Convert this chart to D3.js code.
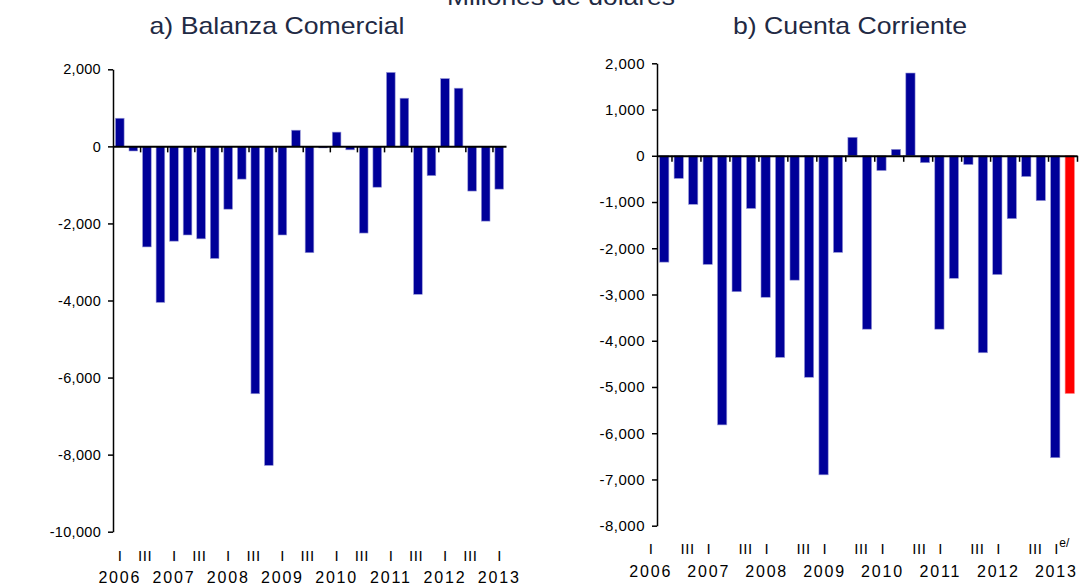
<!DOCTYPE html>
<html><head><meta charset="utf-8">
<script src="https://cdn.jsdelivr.net/npm/d3@7"></script>
<style>body{margin:0;background:#fff}svg{display:block}text{font-family:"Liberation Sans",Arial,sans-serif}</style>
</head><body><svg id="c" width="1079" height="585"></svg>
<script>
// ---- data ----
const categories = [
  "2006 I","2006 II","2006 III","2006 IV","2007 I","2007 II","2007 III","2007 IV",
  "2008 I","2008 II","2008 III","2008 IV","2009 I","2009 II","2009 III","2009 IV",
  "2010 I","2010 II","2010 III","2010 IV","2011 I","2011 II","2011 III","2011 IV",
  "2012 I","2012 II","2012 III","2012 IV","2013 I"];
const balanzaComercial = [730,-120,-2610,-4050,-2460,-2300,-2400,-2910,-1630,-850,-6420,-8280,-2300,420,-2760,-40,370,-90,-2250,-1060,1920,1250,-3840,-760,1760,1510,-1160,-1940,-1110];
const cuentaCorriente = [-2300,-490,-1050,-2350,-5820,-2940,-1140,-3060,-4360,-2690,-4790,-6900,-2090,400,-3750,-320,140,1790,-150,-3750,-2650,-190,-4260,-2570,-1360,-450,-970,-6530,-5140];
const estimatedB = ["2013 I"];
const yearLabels = ["2006","2007","2008","2009","2010","2011","2012","2013"];
const quarterTickLabels = ["I","III"];
const ticksA = [2000,0,-2000,-4000,-6000,-8000,-10000];
const ticksB = [2000,1000,0,-1000,-2000,-3000,-4000,-5000,-6000,-7000,-8000];
const mainTitle = "Millones de dólares";
const titleA = "a) Balanza Comercial";
const titleB = "b) Cuenta Corriente";
const estimateMark = "e/";

// ---- drawing ----
const svg = d3.select("#c");
svg.append("rect").attr("width",1079).attr("height",585).attr("fill","#fff");
const fmt = d3.formatLocale({decimal:".",thousands:",",grouping:[3],currency:["$",""],minus:"-"}).format(",");
const BLUE = "#000099", RED = "#ff0000", TITLE = "#1f2a44";

function panel(opt){
  const g = svg.append("g");
  const n = opt.values.length;
  const x = d3.scaleBand().domain(categories).range([opt.x0, opt.x1]).paddingInner(0.36).paddingOuter(0.18);
  const xi = d3.scaleLinear().domain([0, n]).range([opt.x0, opt.x1]);
  const y = d3.scaleLinear().domain([opt.ticks[opt.ticks.length-1], opt.ticks[0]]).range([opt.yBot, opt.yTop]);
  const isEst = i => opt.estimate && estimatedB.includes(categories[i]);

  g.selectAll("rect.bar").data(opt.values).join("rect")
    .attr("x",(d,i)=>x(categories[i]))
    .attr("width",x.bandwidth())
    .attr("y",d=>y(Math.max(0,d)))
    .attr("height",d=>Math.abs(y(d)-y(0)))
    .attr("fill",(d,i)=>isEst(i) ? RED : BLUE)
    .attr("stroke",(d,i)=>isEst(i) ? "#ff8080" : "#9a9ad8")
    .attr("stroke-width",0.6);

  const ya = g.append("g").attr("transform",`translate(${opt.x0},0)`)
    .call(d3.axisLeft(y).tickValues(opt.ticks).tickFormat(fmt).tickSize(5).tickSizeOuter(0).tickPadding(opt.yPad));
  ya.select(".domain").attr("stroke","#000").attr("stroke-width",1.5);
  ya.selectAll(".tick line").attr("stroke","#000").attr("stroke-width",1.5);
  ya.selectAll(".tick text").attr("font-size",opt.yFont).attr("fill","#000")
    .attr("letter-spacing",opt.yLS).attr("font-family",'"Liberation Sans",Arial,sans-serif');

  const xa = g.append("g").attr("transform",`translate(0,${y(0)})`)
    .call(d3.axisBottom(xi).tickValues(opt.zeroTicks).tickFormat("").tickSize(6).tickSizeOuter(0));
  xa.select(".domain").attr("stroke","#000").attr("stroke-width",2);
  xa.selectAll(".tick line").attr("stroke","#000").attr("stroke-width",1.5);

  yearLabels.forEach((yr,k)=>{
    const pI = xi(4*k + opt.offI);
    g.append("text").attr("x",pI).attr("y",opt.qY).attr("text-anchor","middle")
      .attr("font-size",opt.qFont).text(quarterTickLabels[0]);
    if (k < yearLabels.length-1){
      g.append("text").attr("x",xi(4*k + opt.offIII)).attr("y",opt.qY).attr("text-anchor","middle")
        .attr("font-size",opt.qFont).attr("letter-spacing",0.6).text(quarterTickLabels[1]);
    }
    g.append("text").attr("x",pI).attr("y",opt.yrY).attr("text-anchor","middle")
      .attr("font-size",opt.yrFont).attr("letter-spacing",opt.yrLS).text(yr);
  });
  if (opt.estimate){
    g.append("text").attr("x",xi(4*(yearLabels.length-1) + opt.offI)+3).attr("y",opt.qY-7)
      .attr("font-size",12).text(estimateMark);
  }
  g.append("text").attr("x",opt.titleX).attr("y",opt.titleY).attr("text-anchor","middle")
    .attr("font-size",opt.titleFont).attr("fill",TITLE)
    .attr("textLength",opt.titleW).attr("lengthAdjust","spacingAndGlyphs").text(opt.title);
}

panel({values:balanzaComercial, ticks:ticksA, x0:113, x1:506, yTop:69.3, yBot:531.7,
  zeroTicks:d3.range(2,30,2), offI:0.5, offIII:2.37, qY:561, yrY:583, qFont:15, yrFont:16, yrLS:1.8,
  yFont:14.5, yLS:0.3, yPad:7, title:titleA, titleX:277, titleY:34, titleFont:24, titleW:255, estimate:false});
panel({values:cuentaCorriente, ticks:ticksB, x0:657, x1:1077, yTop:63.3, yBot:525.7,
  zeroTicks:d3.range(1,30,2), offI:-0.43, offIII:2.12, qY:554, yrY:577, qFont:15, yrFont:16, yrLS:1.8,
  yFont:15, yLS:0.5, yPad:7, title:titleB, titleX:850, titleY:34, titleFont:24, titleW:234, estimate:true});

svg.append("text").attr("x",561).attr("y",5).attr("text-anchor","middle")
  .attr("font-size",24).attr("fill",TITLE)
  .attr("textLength",228).attr("lengthAdjust","spacingAndGlyphs").text(mainTitle);
</script></body></html>
